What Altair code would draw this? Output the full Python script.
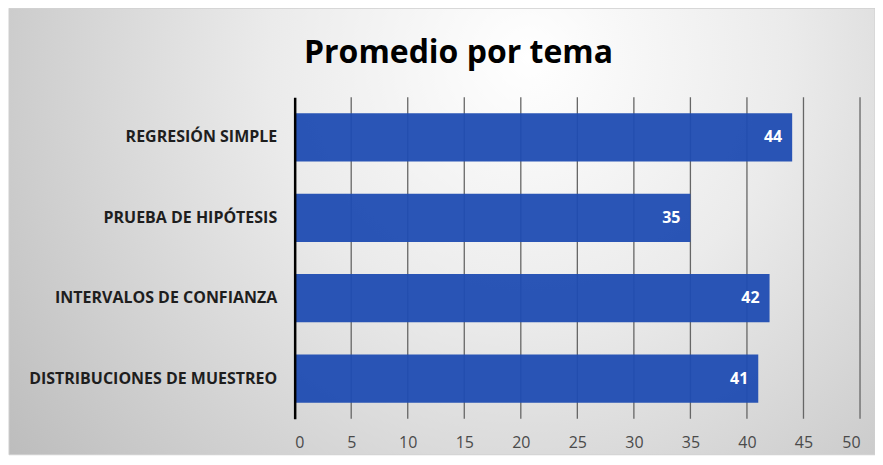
import altair as alt
import pandas as pd

titulo = ["Promedio por tema"]
temas = ["REGRESIÓN SIMPLE", "PRUEBA DE HIPÓTESIS", "INTERVALOS DE CONFIANZA", "DISTRIBUCIONES DE MUESTREO"]
promedios = [44, 35, 42, 41]
x_ticks = [0, 5, 10, 15, 20, 25, 30, 35, 40, 45, 50]

df = pd.DataFrame({"tema": temas, "promedio": promedios})
df_ticks = pd.DataFrame({"t": x_ticks[1:]})
df_title = pd.DataFrame({"titulo": titulo})

W, H = 566, 322
PL, PT, PR, PB = 287, 89, 15, 42

bg = alt.Chart(alt.Data(values=[{}])).mark_rect(
    fill={
        "gradient": "radial",
        "x1": 0.6, "y1": 0.3, "r1": 0,
        "x2": 0.6, "y2": 0.3, "r2": 0.75,
        "stops": [
            {"offset": 0, "color": "#ffffff"},
            {"offset": 0.4, "color": "#ebebeb"},
            {"offset": 1, "color": "#bdbdbd"},
        ],
    },
    stroke="#cfcfcf",
    strokeWidth=1,
).encode(
    x=alt.value(-PL + 1), x2=alt.value(W + PR),
    y=alt.value(-PT), y2=alt.value(H + 36),
)

xscale = alt.Scale(domain=[0, 50], nice=False)

grid = alt.Chart(df_ticks).mark_rule(color="#666666", strokeWidth=1.3).encode(
    x=alt.X("t:Q", scale=xscale),
    y=alt.value(0), y2=alt.value(H),
)

yenc = alt.Y("tema:N", sort=temas, scale=alt.Scale(paddingInner=0.4, paddingOuter=0.2),
             axis=alt.Axis(title=None, domain=True, domainColor="#000000", domainWidth=2.5,
                           ticks=False, labelPadding=18, labelFontSize=16, labelFont="Open Sans",
                           labelFontWeight="bold", labelColor="#1e1e1e", labelLimit=400,
                           grid=False, zindex=1))

bars = alt.Chart(df).mark_bar(color="#1f4cb2", opacity=0.95).encode(
    x=alt.X("promedio:Q", scale=xscale,
            axis=alt.Axis(title=None, values=x_ticks, domain=False, ticks=False, grid=False,
                          labelFontSize=16, labelFont="Open Sans", labelColor="#4a4a4a",
                          labelPadding=16, zindex=1)),
    y=yenc,
)

labels = alt.Chart(df).mark_text(color="white", fontWeight="bold", fontSize=16, font="Open Sans",
                                 align="right", baseline="middle", dx=-10).encode(
    x=alt.X("promedio:Q", scale=xscale),
    y=alt.Y("tema:N", sort=temas),
    text="promedio:Q",
)

title = alt.Chart(df_title).mark_text(fontSize=32, font="Open Sans", fontWeight="bold",
                                      color="#000000", align="center", baseline="middle").encode(
    x=alt.value(459 - 295), y=alt.value(53 - 97), text="titulo:N",
)

chart = alt.layer(bg, grid, bars, labels, title).properties(
    width=W, height=H,
    padding={"left": PL, "top": PT, "right": PR, "bottom": PB},
    autosize="none",
).configure_view(stroke=None).configure(background="white")

chart.save("out.html", embed_options={"renderer": "svg", "actions": False})
